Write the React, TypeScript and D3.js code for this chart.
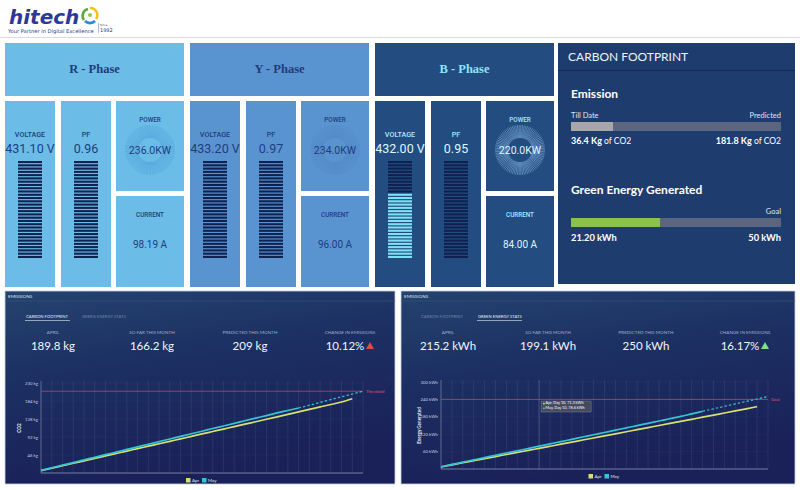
import React from 'react';
import * as d3 from 'd3';

// ---------- DATA ----------
const phaseNames = ['R - Phase', 'Y - Phase', 'B - Phase'];
const voltages = [431.1, 433.2, 432.0];
const powerFactors = [0.96, 0.97, 0.95];
const powersKW = [236.0, 234.0, 220.0];
const currentsA = [98.19, 96.0, 84.0];
const voltageLitFraction = [0, 0, 0.66];

const emissionTillDate = 36.4;
const emissionPredicted = 181.8;
const greenGenerated = 21.2;
const greenGoal = 50;

const statLabels = ['APRIL', 'SO FAR THIS MONTH', 'PREDICTED THIS MONTH', 'CHANGE IN EMISSIONS'];
const emissionStats = ['189.8 kg', '166.2 kg', '209 kg', '10.12%'];
const energyStats = ['215.2 kWh', '199.1 kWh', '250 kWh', '16.17%'];

const days = [1, 2, 3, 4, 5, 6, 7, 8, 9, 10, 11, 12, 13, 14, 15, 16, 17, 18, 19, 20, 21, 22, 23, 24, 25, 26, 27, 28, 29, 30, 31];
const projDays = [25, 26, 27, 28, 29, 30, 31];

const co2Ticks = [46, 92, 138, 184, 230];
const co2Apr = [6.1, 12.5, 18.6, 24.9, 31.0, 37.2, 43.7, 49.9, 56.0, 62.4, 68.5, 74.8, 81.0, 87.1, 93.5, 99.8, 106.0, 112.3, 118.4, 124.9, 131.0, 137.3, 143.6, 149.9, 156.2, 162.5, 168.8, 175.1, 181.5, 189.8];
const co2May = [6.8, 13.4, 20.1, 26.7, 33.5, 40.1, 46.8, 53.4, 60.2, 66.8, 73.5, 80.1, 86.9, 93.5, 100.2, 106.8, 113.6, 120.2, 126.9, 133.5, 140.2, 146.8, 153.5, 159.8, 166.2];
const co2Proj = [166.2, 173.3, 180.4, 187.6, 194.7, 201.9, 209.0];
const co2Threshold = 209;

const kwhTicks = [60, 120, 180, 240, 300];
const kwhApr = [7.0, 14.2, 21.5, 28.6, 35.8, 42.9, 50.0, 57.1, 64.3, 71.3, 78.4, 85.6, 92.7, 99.9, 107.0, 114.2, 121.3, 128.4, 135.6, 142.8, 150.0, 157.1, 164.2, 171.4, 178.6, 185.8, 193.0, 200.2, 207.6, 215.2];
const kwhMay = [7.8, 15.7, 23.6, 31.5, 39.4, 47.2, 55.1, 63.0, 70.8, 78.6, 86.5, 94.4, 102.3, 110.2, 118.1, 126.0, 133.9, 141.8, 149.7, 157.6, 165.5, 173.4, 181.3, 190.2, 199.1];
const kwhProj = [199.1, 207.6, 216.1, 224.6, 233.1, 241.5, 250.0];
const kwhGoal = 240;
const tooltipDay = 10;

// ---------- STYLES ----------
const phaseStyles = [
  { bg: '#6bbde8', title: '#1f3c7c', label: '#1f3c7c', value: '#1f3c7c', tick: '#3f8fcb', tickOp: 0.5, disc: '#6bbde8' },
  { bg: '#5a94d0', title: '#1f3c7c', label: '#1f3c7c', value: '#1f3c7c', tick: '#4478b8', tickOp: 0.4, disc: '#5a94d0' },
  { bg: '#234c80', title: '#8ee3ff', label: '#a9e9ff', value: '#dff6ff', tick: '#8fc4ee', tickOp: 0.7, disc: '#234c80' },
];
const APR = '#d6e070';
const MAY = '#35c4d4';

function Header() {
  return (
    <g>
      <rect x={0} y={0} width={800} height={37} fill="#ffffff" />
      <line x1={0} x2={800} y1={37.5} y2={37.5} stroke="#d9d9d9" />
      <text x={9} y={23.5} fontFamily="DejaVu Sans" fontWeight="bold" fontStyle="italic" fontSize={20} fill="#2b3a96">hitech</text>
      <g transform="translate(90,15)">
        <path d="M-6,5 A7,7 0 0 1 -2,-6" fill="none" stroke="#5aaa3c" strokeWidth={2.6} />
        <path d="M0,-7 A7,7 0 0 1 6,4" fill="none" stroke="#f2c31a" strokeWidth={2.6} />
        <path d="M5,6 A7,7 0 0 1 -5,6" fill="none" stroke="#2d86d6" strokeWidth={2.6} />
        <circle cx={0} cy={0} r={2} fill="#8cc84b" />
      </g>
      <text x={8} y={32.5} fontFamily="DejaVu Sans" fontSize={5.2} fill="#2b3a96">Your Partner in Digital Excellence</text>
      <line x1={98.5} x2={98.5} y1={23} y2={33} stroke="#8a8fc0" strokeWidth={0.6} />
      <text x={100} y={26} fontFamily="DejaVu Sans" fontSize={2.8} fill="#2b3a96">Since</text>
      <text x={100} y={32} fontFamily="DejaVu Sans" fontSize={5} fill="#2b3a96">1992</text>
    </g>
  );
}

function StripeBar({ x, lit }: { x: number; lit: number }) {
  const n = 30;
  const band = d3.scaleBand<number>().domain(d3.range(n)).range([161, 258]).paddingInner(0.36);
  const litCount = Math.round(lit * n);
  return (
    <g>
      {d3.range(n).map((i) => (
        <rect key={i} x={x} y={band(i)} width={24} height={band.bandwidth()} fill={i >= n - litCount ? '#7fe0f5' : '#0e2150'} />
      ))}
    </g>
  );
}

function Gauge({ cx, cy, style }: { cx: number; cy: number; style: any }) {
  const angles = d3.range(0, 360, 4);
  return (
    <g>
      {angles.map((a) => {
        const r = (a * Math.PI) / 180;
        return (
          <line key={a} x1={cx + Math.cos(r) * 12} y1={cy + Math.sin(r) * 12} x2={cx + Math.cos(r) * 25} y2={cy + Math.sin(r) * 25} stroke={style.tick} strokeOpacity={style.tickOp} strokeWidth={0.7} />
        );
      })}
      <circle cx={cx} cy={cy} r={12} fill={style.disc} opacity={0.5} />
    </g>
  );
}

function PhasePanel({ i }: { i: number }) {
  const x0 = 5 + i * 185;
  const s = phaseStyles[i];
  const volX = x0, pfX = x0 + 56, pwX = x0 + 111;
  return (
    <g fontFamily="Roboto, sans-serif">
      <rect x={x0} y={43} width={179} height={53} fill={s.bg} />
      <text x={x0 + 89.5} y={73} textAnchor="middle" fontFamily="Liberation Serif" fontWeight="bold" fontSize={12.5} fill={s.title}>{phaseNames[i]}</text>

      <rect x={volX} y={101} width={50} height={186} fill={s.bg} />
      <text x={volX + 25} y={136.5} textAnchor="middle" fontSize={7.2} fontWeight={500} fill={s.label}>VOLTAGE</text>
      <text x={volX + 25} y={153} textAnchor="middle" fontSize={12.5} fill={s.value}>{voltages[i].toFixed(2)} V</text>
      <StripeBar x={volX + 13} lit={voltageLitFraction[i]} />

      <rect x={pfX} y={101} width={50} height={186} fill={s.bg} />
      <text x={pfX + 25} y={136.5} textAnchor="middle" fontSize={7.2} fontWeight={500} fill={s.label}>PF</text>
      <text x={pfX + 25} y={153} textAnchor="middle" fontSize={12.5} fill={s.value}>{powerFactors[i].toFixed(2)}</text>
      <StripeBar x={pfX + 13} lit={0} />

      <rect x={pwX} y={101} width={68} height={90} fill={s.bg} />
      <text x={pwX + 34} y={121.5} textAnchor="middle" fontSize={6.3} fontWeight={500} fill={s.label}>POWER</text>
      <Gauge cx={pwX + 34} cy={150} style={s} />
      <text x={pwX + 34} y={154} textAnchor="middle" fontSize={10.5} fill={s.value}>{powersKW[i].toFixed(1)}KW</text>

      <rect x={pwX} y={196} width={68} height={91} fill={s.bg} />
      <text x={pwX + 34} y={216.5} textAnchor="middle" fontSize={6.3} fontWeight={500} fill={s.label}>CURRENT</text>
      <text x={pwX + 34} y={247.5} textAnchor="middle" fontSize={10} fill={s.value}>{currentsA[i].toFixed(2)} A</text>
    </g>
  );
}

function CarbonPanel() {
  const bx0 = 571, bx1 = 781;
  const em = d3.scaleLinear().domain([0, emissionPredicted]).range([bx0, bx1]);
  const gr = d3.scaleLinear().domain([0, greenGoal]).range([bx0, bx1]);
  return (
    <g fontFamily="Lato, sans-serif">
      <rect x={558} y={43} width={237} height={241} fill="#1f3c6e" />
      <line x1={558} x2={795} y1={70.5} y2={70.5} stroke="#132a55" strokeWidth={1.2} />
      <text x={568} y={61} fontSize={12} fill="#eef3fb">CARBON FOOTPRINT</text>

      <text x={571} y={97.5} fontSize={12} fontWeight="bold" fill="#ffffff">Emission</text>
      <text x={571} y={118} fontSize={7.5} fill="#dfe6f2">Till Date</text>
      <text x={781} y={118} fontSize={7.5} fill="#dfe6f2" textAnchor="end">Predicted</text>
      <rect x={bx0} y={122} width={bx1 - bx0} height={9} fill="#5b6580" />
      <rect x={bx0} y={122} width={em(emissionTillDate) - bx0} height={9} fill="#a7a7a7" />
      <text x={571} y={144} fontSize={9} fill="#ffffff"><tspan fontWeight="bold">{emissionTillDate} Kg</tspan><tspan fontSize={8.5}> of CO2</tspan></text>
      <text x={781} y={144} fontSize={9} fill="#ffffff" textAnchor="end"><tspan fontWeight="bold">{emissionPredicted} Kg</tspan><tspan fontSize={8.5}> of CO2</tspan></text>

      <text x={571} y={193.5} fontSize={12} fontWeight="bold" fill="#ffffff">Green Energy Generated</text>
      <text x={781} y={214} fontSize={7.5} fill="#dfe6f2" textAnchor="end">Goal</text>
      <rect x={bx0} y={218} width={bx1 - bx0} height={9} fill="#5b6580" />
      <rect x={bx0} y={218} width={gr(greenGenerated) - bx0} height={9} fill="#8bc34a" />
      <text x={571} y={240.5} fontSize={9.3} fontWeight="bold" fill="#ffffff">{greenGenerated.toFixed(2)} kWh</text>
      <text x={781} y={240.5} fontSize={9.3} fontWeight="bold" fill="#ffffff" textAnchor="end">{greenGoal} kWh</text>
    </g>
  );
}

type ChartProps = {
  px: number; pw: number;
  x0: number; x1: number; yTop: number; yBot: number; max: number;
  ticks: number[]; unit: string;
  apr: number[]; may: number[]; proj: number[];
  refValue: number; refLabel: string; yTitle: string;
  stats: string[]; activeTab: number; up: string;
  statCenters: number[]; tabX: number[];
  tooltip?: boolean;
};

function ChartPanel(p: ChartProps) {
  const x = d3.scaleLinear().domain([1, 31]).range([p.x0, p.x1]);
  const y = d3.scaleLinear().domain([0, p.max]).range([p.yBot, p.yTop]);
  const line = d3.line<number>().x((_, i) => x(days[i])).y((d) => y(d)).curve(d3.curveMonotoneX);
  const projLine = d3.line<number>().x((_, i) => x(projDays[i])).y((d) => y(d));
  const gradId = 'pg' + p.px;
  const legendCx = (p.x0 + p.x1) / 2;
  const tabs = ['CARBON FOOTPRINT', 'GREEN ENERGY STATS'];
  const tipX = x(tooltipDay) + 2;
  const tipY = p.yTop + 19;
  return (
    <g fontFamily="Lato, sans-serif">
      <defs>
        <linearGradient id={gradId} x1="0" y1="0" x2="0.3" y2="1">
          <stop offset="0" stopColor="#24436f" />
          <stop offset="0.45" stopColor="#1c2f62" />
          <stop offset="1" stopColor="#1a2158" />
        </linearGradient>
      </defs>
      <rect x={p.px} y={291} width={p.pw} height={193} fill={`url(#${gradId})`} stroke="#c9d1dc" strokeWidth={0.8} />
      <text x={p.px + 3} y={298} fontSize={4.6} fill="#dfe6f2">EMISSIONS</text>
      <line x1={p.px} x2={p.px + p.pw} y1={301} y2={301} stroke="#3a557f" strokeWidth={0.6} />
      {tabs.map((t, k) => (
        <g key={t}>
          <text x={p.tabX[k]} y={318} fontSize={4.2} fill={k === p.activeTab ? '#e4ebf7' : '#6f84a8'}>{t}</text>
          {k === p.activeTab && <line x1={p.tabX[k] - 1} x2={p.tabX[k] + 44} y1={320.5} y2={320.5} stroke="#e4ebf7" strokeWidth={0.6} />}
        </g>
      ))}
      {statLabels.map((l, k) => (
        <g key={l}>
          <text x={p.statCenters[k]} y={334} fontSize={4.6} fill="#9fb0cc" textAnchor="middle">{l}</text>
          <text x={p.statCenters[k] - (k === 3 ? 5 : 0)} y={350} fontSize={11.5} fill="#f2f5fb" textAnchor="middle">{p.stats[k]}</text>
        </g>
      ))}
      <path d={`M${p.statCenters[3] + 16},349 l4,-7 l4,7 z`} fill={p.up} />

      {days.map((d) => (
        <line key={d} x1={x(d)} x2={x(d)} y1={p.yTop - 2} y2={p.yBot} stroke="#ffffff" strokeOpacity={d === tooltipDay && p.tooltip ? 0.35 : 0.12} strokeWidth={0.6} />
      ))}
      {p.ticks.map((t) => (
        <g key={t}>
          <line x1={p.x0} x2={p.x1} y1={y(t)} y2={y(t)} stroke="#ffffff" strokeOpacity={0.05} strokeWidth={0.5} />
          <text x={p.x0 - 3} y={y(t) + 1.5} fontSize={4.3} fill="#c3cbe0" textAnchor="end">{t} {p.unit}</text>
        </g>
      ))}
      <line x1={p.x0} x2={p.x0} y1={p.yTop - 2} y2={p.yBot} stroke="#8a96b8" strokeWidth={0.5} />
      <line x1={p.x0} x2={p.x1} y1={p.yBot} y2={p.yBot} stroke="#8a96b8" strokeWidth={0.8} />
      <text transform={`translate(${p.x0 - 20},${(p.yTop + p.yBot) / 2}) rotate(-90)`} fontSize={4.6} fontWeight="bold" fill="#e6ecf7" textAnchor="middle">{p.yTitle}</text>

      <line x1={p.x0} x2={p.x1} y1={y(p.refValue)} y2={y(p.refValue)} stroke="#b7476a" strokeWidth={0.8} />
      <text x={p.x1 + 3} y={y(p.refValue) + 1.5} fontSize={4.2} fill="#e0506a">{p.refLabel}</text>

      <path d={line(p.apr) || ''} fill="none" stroke={APR} strokeWidth={1.7} />
      <path d={line(p.may) || ''} fill="none" stroke={MAY} strokeWidth={1.7} />
      <path d={projLine(p.proj) || ''} fill="none" stroke={MAY} strokeWidth={1.2} strokeDasharray="2.5,2" />

      {p.tooltip && (
        <g>
          <rect x={tipX} y={tipY} width={50} height={11} fill="#464a5e" stroke="#8c90a4" strokeWidth={0.4} />
          <rect x={tipX + 2} y={tipY + 1.8} width={1.6} height={1.6} fill={APR} />
          <text x={tipX + 4.5} y={tipY + 3.4} fontSize={3.8} fill="#ffffff">Apr, Day {tooltipDay}, {p.apr[9]} kWh</text>
          <rect x={tipX + 2} y={tipY + 6.5} width={1.6} height={1.6} fill={MAY} />
          <text x={tipX + 4.5} y={tipY + 8.1} fontSize={3.8} fill="#ffffff">May, Day {tooltipDay}, {p.may[9]} kWh</text>
        </g>
      )}

      <rect x={legendCx - 16} y={p.yBot + 5} width={4.5} height={4.5} fill={APR} />
      <text x={legendCx - 10} y={p.yBot + 9} fontSize={4.5} fill="#dfe6f2">Apr</text>
      <rect x={legendCx} y={p.yBot + 5} width={4.5} height={4.5} fill={MAY} />
      <text x={legendCx + 6} y={p.yBot + 9} fontSize={4.5} fill="#dfe6f2">May</text>
    </g>
  );
}

export default function App() {
  return (
    <svg width={800} height={490} style={{ position: 'absolute', left: 0, top: 0, background: '#ffffff' }}>
      <rect x={0} y={0} width={800} height={490} fill="#ffffff" />
      <Header />
      {phaseNames.map((_, i) => (
        <PhasePanel key={i} i={i} />
      ))}
      <CarbonPanel />
      <ChartPanel
        px={5} pw={390} x0={41} x1={363} yTop={383} yBot={473} max={230}
        ticks={co2Ticks} unit="kg" apr={co2Apr} may={co2May} proj={co2Proj}
        refValue={co2Threshold} refLabel="Threshold" yTitle="CO2"
        stats={emissionStats} activeTab={0} up="#e0484f"
        statCenters={[53, 152, 250, 350]} tabX={[26, 82]}
      />
      <ChartPanel
        px={401} pw={394} x0={441} x1={768} yTop={382} yBot={469} max={300}
        ticks={kwhTicks} unit="kWh" apr={kwhApr} may={kwhMay} proj={kwhProj}
        refValue={kwhGoal} refLabel="Goal" yTitle="Energy Generated"
        stats={energyStats} activeTab={1} up="#7fe08a"
        statCenters={[448, 548, 646, 745]} tabX={[421, 478]} tooltip
      />
    </svg>
  );
}
